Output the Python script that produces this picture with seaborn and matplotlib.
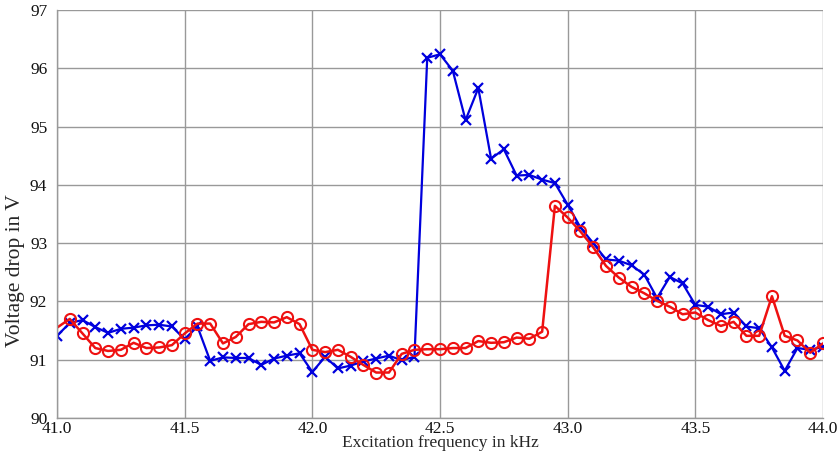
import numpy as np
import pandas as pd
import seaborn as sns
import matplotlib
matplotlib.use("Agg")
import matplotlib.pyplot as plt

freq_khz = [41.00, 41.05, 41.10, 41.15, 41.20, 41.25, 41.30, 41.35, 41.40, 41.45,
            41.50, 41.55, 41.60, 41.65, 41.70, 41.75, 41.80, 41.85, 41.90, 41.95,
            42.00, 42.05, 42.10, 42.15, 42.20, 42.25, 42.30, 42.35, 42.40, 42.45,
            42.50, 42.55, 42.60, 42.65, 42.70, 42.75, 42.80, 42.85, 42.90, 42.95,
            43.00, 43.05, 43.10, 43.15, 43.20, 43.25, 43.30, 43.35, 43.40, 43.45,
            43.50, 43.55, 43.60, 43.65, 43.70, 43.75, 43.80, 43.85, 43.90, 43.95,
            44.00]

voltage_blue = [91.41, 91.63, 91.68, 91.56, 91.46, 91.53, 91.55, 91.59, 91.60, 91.57,
                91.35, 91.57, 90.98, 91.04, 91.03, 91.03, 90.91, 91.02, 91.07, 91.11,
                90.79, 91.05, 90.85, 90.90, 90.97, 91.02, 91.07, 90.99, 91.05, 96.18,
                96.24, 95.96, 95.11, 95.66, 94.45, 94.61, 94.16, 94.17, 94.09, 94.03,
                93.66, 93.27, 93.00, 92.72, 92.70, 92.62, 92.46, 92.06, 92.42, 92.31,
                91.94, 91.91, 91.78, 91.81, 91.57, 91.54, 91.21, 90.81, 91.20, 91.17,
                91.22]

voltage_red = [91.55, 91.70, 91.45, 91.20, 91.15, 91.17, 91.29, 91.20, 91.21, 91.25,
               91.45, 91.62, 91.62, 91.28, 91.39, 91.61, 91.65, 91.64, 91.73, 91.61,
               91.17, 91.13, 91.17, 91.05, 90.91, 90.78, 90.78, 91.10, 91.17, 91.18,
               91.18, 91.20, 91.20, 91.32, 91.29, 91.30, 91.38, 91.36, 91.48, 93.64,
               93.44, 93.20, 92.93, 92.61, 92.41, 92.25, 92.14, 92.01, 91.91, 91.78,
               91.81, 91.68, 91.58, 91.65, 91.41, 91.41, 92.09, 91.41, 91.33, 91.12,
               91.28]

x_ticks = [41.0, 41.5, 42.0, 42.5, 43.0, 43.5, 44.0]
y_ticks = [90, 91, 92, 93, 94, 95, 96, 97]

sns.set_style("whitegrid")
plt.rcParams['font.family'] = ['Liberation Serif', 'DejaVu Serif']

fig = plt.figure(figsize=(8.39, 4.62), dpi=100)
ax = fig.add_axes([57 / 839, 1 - 418 / 462, 766 / 839, 408 / 462])

df = pd.DataFrame({"freq": freq_khz, "blue": voltage_blue, "red": voltage_red})

sns.lineplot(data=df, x="freq", y="blue", color="#0000dd", marker="x",
             markersize=6.5, markeredgecolor="#0000dd", markeredgewidth=1.6,
             linewidth=1.6, ax=ax)
sns.lineplot(data=df, x="freq", y="red", color="#ee1111", marker="o",
             markersize=8, markerfacecolor="none", markeredgecolor="#ee1111",
             markeredgewidth=1.5, linewidth=1.8, markevery=slice(1, None), ax=ax)

ax.set_xlim(41.0, 44.0)
ax.set_ylim(90, 97)
ax.set_xticks(x_ticks)
ax.set_xticklabels([f"{t:.1f}" for t in x_ticks])
ax.set_yticks(y_ticks)
ax.grid(True, color="#999999", linewidth=1.0)
for side in ["top", "right"]:
    ax.spines[side].set_visible(False)
for side in ["left", "bottom"]:
    ax.spines[side].set_color("#999999")
    ax.spines[side].set_linewidth(1.0)
ax.tick_params(axis="both", length=0, labelsize=12.5, colors="#111111", pad=2)
ax.tick_params(axis="y", pad=7)
ax.set_xlabel("Excitation frequency in kHz", fontsize=12.5, labelpad=-1)
ax.set_ylabel("Voltage drop in V", fontsize=15.5)
ax.yaxis.set_label_coords(-0.042, 0.36)

fig.savefig("out.png", dpi=100)
